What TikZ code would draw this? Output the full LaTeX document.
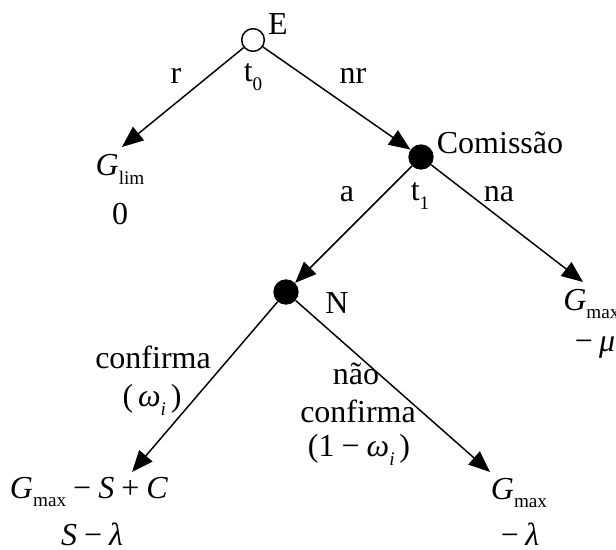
\documentclass[tikz,border=0pt]{standalone}
\usepackage{fontspec}
\setmainfont{Liberation Serif}
\usetikzlibrary{arrows.meta}
\newcommand{\sbs}[1]{\raisebox{-0.28em}{\fontsize{14.4}{16}\selectfont #1}}
\newcommand{\isb}[1]{\raisebox{-0.28em}{\fontsize{14.4}{16}\selectfont\itshape #1}}
\newcommand{\mns}{\hspace{0.22em}−\hspace{0.22em}}
\newcommand{\pls}{\hspace{0.22em}+\hspace{0.22em}}
\newcommand{\gmx}{\textit{G}\sbs{max}}
\begin{document}
\begin{tikzpicture}[x=0.75pt,y=-0.75pt,
  every node/.style={font=\fontsize{24}{28}\selectfont, inner sep=0pt},
  arr/.style={line width=1.1pt, -{Triangle[length=16pt,width=13pt]}},
  opennode/.style={circle, draw, line width=1.1pt, minimum size=17pt},
  fullnode/.style={circle, fill, minimum size=19pt}]
\useasboundingbox (0,0) rectangle (616,549);
% decision nodes
\node[opennode] (E) at (253,40) {};
\node[fullnode] (C) at (421,157) {};
\node[fullnode] (N) at (286,292) {};
% leaf points
\coordinate (L0) at (122,147);
\coordinate (R0) at (583,282);
\coordinate (B1) at (132,472);
\coordinate (B2) at (490,472);
% connectors
\draw[arr] (E) -- (L0);
\draw[arr] (E) -- (C);
\draw[arr] (C) -- (N);
\draw[arr] (C) -- (R0);
\draw[arr] (N) -- (B1);
\draw[arr] (N) -- (B2);
% labels
\node (lE) at (278,24) {E};
\node (lt0) at (253,77) {t\sbs{0}};
\node (lr) at (176,76) {r};
\node (lnr) at (353,76) {nr};
\node (lglim) at (120,169) {\textit{G}\sbs{lim}};
\node (lzero) at (120,214) {0};
\node (lcom) at (500,143) {Comissão};
\node (la) at (347,194) {a};
\node (lt1) at (420,196) {t\sbs{1}};
\node (lna) at (499,194) {na};
\node (lN) at (337,303) {N};
\node[anchor=west] (lgr) at (563,304) {\gmx};
\node (lmu) at (595,348) {−\hspace{0.2em}\textit{μ}};
\node (lconf) at (153,357) {confirma};
\node (lom) at (152,400) {(\hspace{0.15em}\textit{ω}\isb{i}\hspace{0.15em})};
\node (lnao) at (356,374) {não};
\node (lconf2) at (358,411) {confirma};
\node (lom2) at (359,450) {(1\mns\textit{ω}\isb{i}\hspace{0.15em})};
\node (lb1) at (89,492) {\gmx\mns\textit{S}\pls\textit{C}};
\node (lb1b) at (92,534) {\textit{S}\mns\textit{λ}};
\node (lb2) at (519,493) {\gmx};
\node (lb2b) at (520,534) {−\hspace{0.2em}\textit{λ}};
\end{tikzpicture}
\end{document}
